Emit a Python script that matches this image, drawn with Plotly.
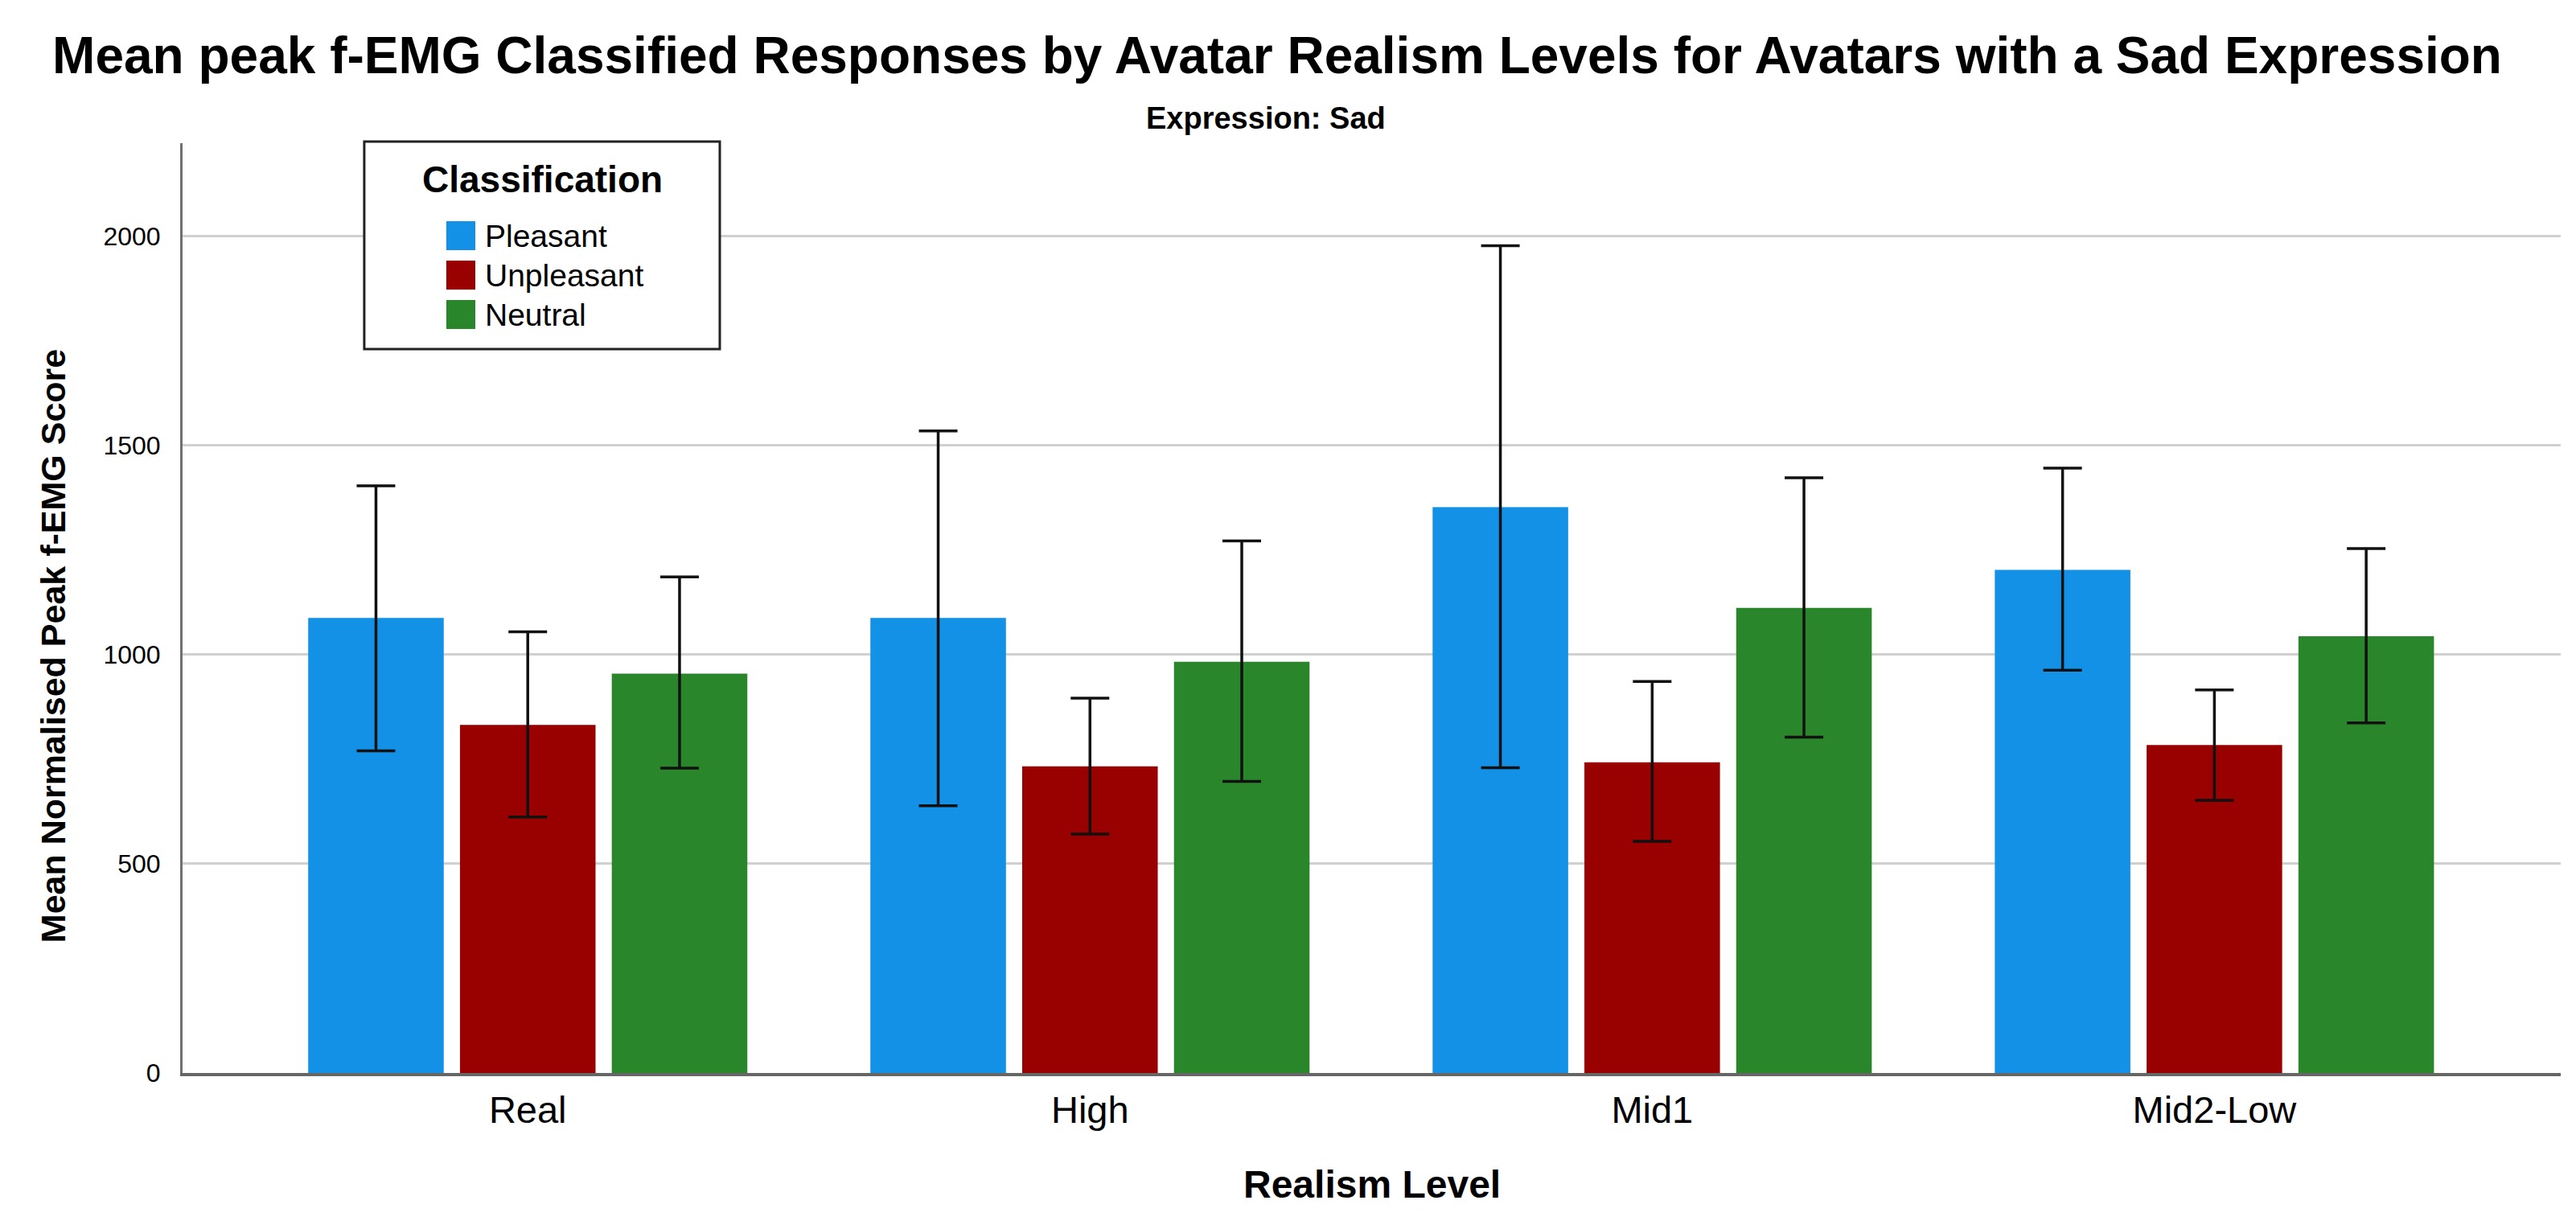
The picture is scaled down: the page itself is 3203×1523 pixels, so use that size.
import plotly.graph_objects as go

# ---- data ----
categories = ["Real", "High", "Mid1", "Mid2-Low"]
series_names = ["Pleasant", "Unpleasant", "Neutral"]
series_colors = ["#1391E6", "#990000", "#2A862A"]

pleasant_mean = [1088, 1088, 1353, 1203]
unpleasant_mean = [832, 733, 743, 784]
neutral_mean = [955, 983, 1112, 1044]

pleasant_upper = [1404, 1535, 1978, 1446]
unpleasant_upper = [1055, 896, 936, 916]
neutral_upper = [1186, 1272, 1423, 1254]

pleasant_lower = [770, 639, 730, 963]
unpleasant_lower = [612, 571, 554, 652]
neutral_lower = [729, 697, 803, 837]

y_ticks = [0, 500, 1000, 1500, 2000]

means = [pleasant_mean, unpleasant_mean, neutral_mean]
uppers = [pleasant_upper, unpleasant_upper, neutral_upper]
lowers = [pleasant_lower, unpleasant_lower, neutral_lower]

FONT = "Arial, Liberation Sans, sans-serif"

fig = go.Figure()
for name, color, m, up, lo in zip(series_names, series_colors, means, uppers, lowers):
    fig.add_trace(go.Bar(
        name=name,
        x=categories,
        y=m,
        marker=dict(color=color, line=dict(width=0)),
        error_y=dict(
            type="data",
            symmetric=False,
            array=[u - v for u, v in zip(up, m)],
            arrayminus=[v - l for v, l in zip(m, lo)],
            color="#111111",
            thickness=3.5,
            width=24,
        ),
        showlegend=False,
    ))

# ---- manual legend (box, swatches, texts) ----
shapes = [dict(type="rect", xref="paper", yref="paper",
               x0=0.0764, x1=0.2259, y0=0.7785, y1=1.0017,
               line=dict(color="#222222", width=3), fillcolor="white", layer="above")]
annotations = [dict(text="Classification", xref="paper", yref="paper",
                    x=0.1515, y=0.961, xanchor="center", yanchor="middle",
                    showarrow=False, font=dict(family=FONT, size=46, color="black", weight="bold"))]
row_y = [0.9005, 0.8581, 0.8157]
for name, color, yy in zip(series_names, series_colors, row_y):
    shapes.append(dict(type="rect", xref="paper", yref="paper",
                       x0=0.1109, x1=0.1231, y0=yy - 0.0156, y1=yy + 0.0156,
                       line=dict(width=0), fillcolor=color, layer="above"))
    annotations.append(dict(text=name, xref="paper", yref="paper",
                            x=0.1265, y=yy, xanchor="left", yanchor="middle",
                            showarrow=False, font=dict(family=FONT, size=39, color="black")))

# subtitle and axis titles
annotations.append(dict(text="Expression: Sad", xref="paper", yref="paper",
                        x=0.4555, y=1.0268, xanchor="center", yanchor="middle",
                        showarrow=False, font=dict(family=FONT, size=38, color="black", weight="bold")))
annotations.append(dict(text="Mean Normalised Peak f-EMG Score", xref="paper", yref="paper",
                        x=-0.0544, y=0.4593, xanchor="center", yanchor="middle", textangle=-90,
                        showarrow=False, font=dict(family=FONT, size=43, color="black", weight="bold")))
annotations.append(dict(text="Realism Level", xref="paper", yref="paper",
                        x=0.5, y=-0.1202, xanchor="center", yanchor="middle",
                        showarrow=False, font=dict(family=FONT, size=48, color="black", weight="bold")))

fig.update_layout(
    width=3203, height=1523,
    margin=dict(l=219, r=27, t=170, b=197, autoexpand=False),
    paper_bgcolor="white", plot_bgcolor="white",
    barmode="group", bargap=0.19, bargroupgap=0.107,
    title=dict(text="Mean peak f-EMG Classified Responses by Avatar Realism Levels for Avatars with a Sad Expression",
               x=0.4933, xref="container", xanchor="center",
               y=1 - 61 / 1523, yref="container", yanchor="middle",
               font=dict(family=FONT, size=64, color="black", weight="bold")),
    shapes=shapes,
    annotations=annotations,
    xaxis=dict(type="category", range=[-0.614, 3.616], showgrid=False,
               showline=True, linecolor="#666666", linewidth=4, ticks="",
               tickfont=dict(family=FONT, size=47, color="black"),
               ticklabelstandoff=2, zeroline=False),
    yaxis=dict(range=[0, 2223], tickvals=y_ticks, ticktext=[str(t) for t in y_ticks],
               showgrid=True, gridcolor="#D0D0D0", gridwidth=3,
               showline=True, linecolor="#707070", linewidth=3, ticks="",
               tickfont=dict(family=FONT, size=32, color="black"),
               ticklabelstandoff=18, zeroline=False),
    font=dict(family=FONT),
)

fig.write_html("out.html")
